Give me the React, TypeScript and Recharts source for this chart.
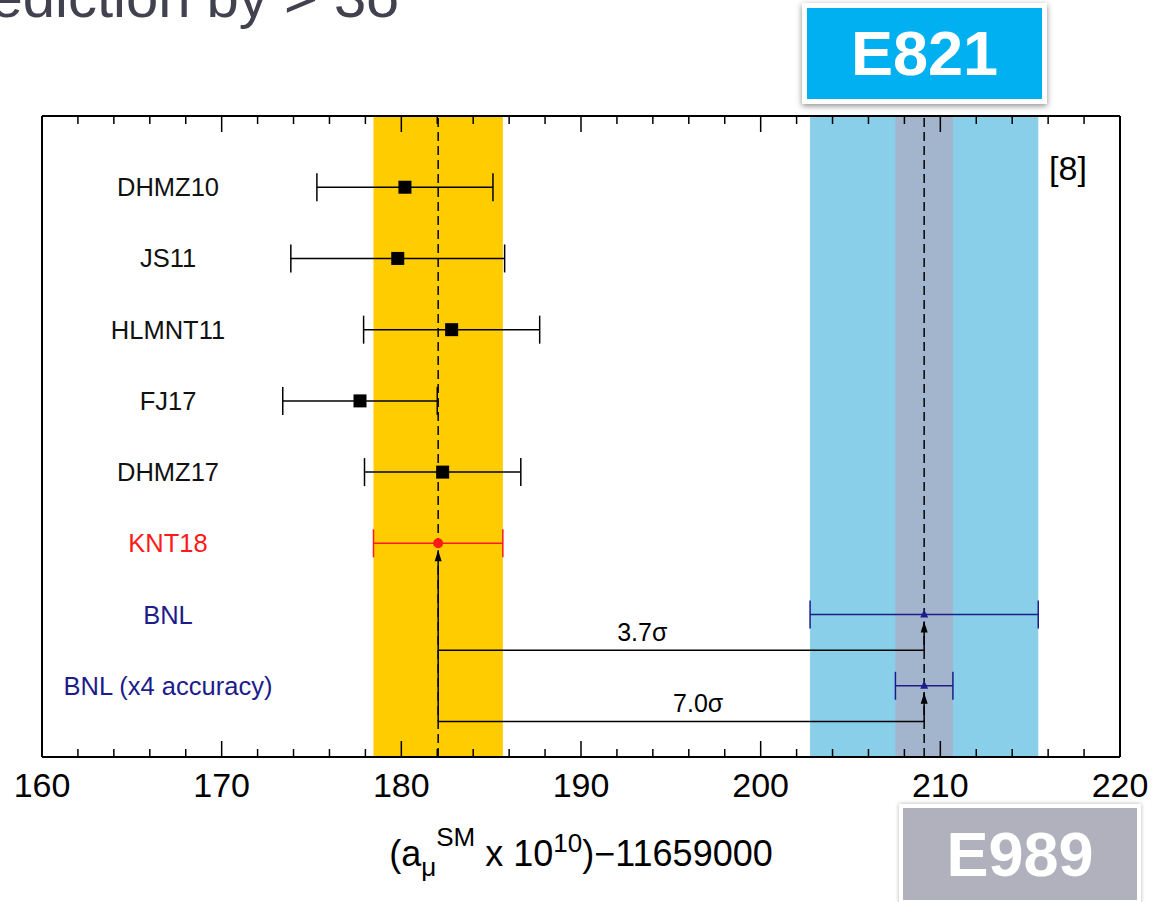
import {
  ScatterChart,
  Scatter,
  XAxis,
  YAxis,
  ErrorBar,
  ReferenceArea,
  ReferenceLine,
  Label,
} from 'recharts';

// Hadronic vacuum polarisation evaluations (black squares)
const hvpLabels = ['DHMZ10', 'JS11', 'HLMNT11', 'FJ17', 'DHMZ17'];
const hvpValues = [180.2, 179.8, 182.8, 177.7, 182.3];
const hvpErrors = [4.9, 5.95, 4.9, 4.3, 4.35];

// reference SM evaluation (red)
const kntLabel = 'KNT18';
const kntValue = 182.05;
const kntError = 3.6;

// measurement (dark blue)
const bnlLabels = ['BNL', 'BNL (x4 accuracy)'];
const bnlValues = [209.1, 209.1];
const bnlErrors = [6.35, 1.6];

const sigmaLabels = ['3.7σ', '7.0σ'];

const xTicks = [
  160, 162, 164, 166, 168, 170, 172, 174, 176, 178, 180, 182, 184, 186, 188, 190,
  192, 194, 196, 198, 200, 202, 204, 206, 208, 210, 212, 214, 216, 218, 220,
];

const FONT = '"Liberation Sans", Arial, Helvetica, sans-serif';
const BLUE = '#1c1c8a';
const RED = '#ff1a1a';

const rowLabels = [...hvpLabels, kntLabel, ...bnlLabels];
const rowColors = [...hvpLabels.map(() => '#111'), RED, ...bnlLabels.map(() => BLUE)];
const rowTicks = rowLabels.map((_, i) => i + 1);
const kntRow = hvpLabels.length + 1;
const bnlRows = bnlLabels.map((_, i) => kntRow + 1 + i);

const hvpData = hvpLabels.map((name, i) => ({ name, x: hvpValues[i], y: i + 1, err: hvpErrors[i] }));
const kntData = [{ name: kntLabel, x: kntValue, y: kntRow, err: kntError }];
const bnlData = bnlLabels.map((name, i) => ({ name, x: bnlValues[i], y: bnlRows[i], err: bnlErrors[i] }));

// where the sigma text sits along each connector (fraction of its length)
const sigmaTextPos = [0.42, 0.535];

function BottomTick(props: any) {
  const { x, y, payload } = props;
  const major = payload.value % 10 === 0;
  return (
    <g>
      <line x1={x} x2={x} y1={y} y2={y - (major ? 16 : 8)} stroke="#000" strokeWidth={1.5} />
      {major && (
        <text x={x} y={y + 40} textAnchor="middle" fontSize={34} fontFamily={FONT} fill="#000">
          {payload.value}
        </text>
      )}
    </g>
  );
}

function TopTick(props: any) {
  const { x, y, payload } = props;
  const major = payload.value % 10 === 0;
  return <line x1={x} x2={x} y1={y} y2={y + (major ? 16 : 8)} stroke="#000" strokeWidth={1.5} />;
}

function RowTick(props: any) {
  const { x, y, payload } = props;
  const i = payload.value - 1;
  return (
    <text x={x + 126} y={y + 9} textAnchor="middle" fontSize={25.5} fontFamily={FONT} fill={rowColors[i]}>
      {rowLabels[i]}
    </text>
  );
}

function AxisTitle(props: any) {
  const { viewBox } = props;
  const cx = viewBox.x + viewBox.width / 2;
  return (
    <text x={cx} y={viewBox.y + 109} textAnchor="middle" fontSize={36} fontFamily={FONT} fill="#000">
      <tspan>(a</tspan>
      <tspan fontSize={26} dy={10}>μ</tspan>
      <tspan fontSize={26} dy={-30}>SM</tspan>
      <tspan dy={20}> x 10</tspan>
      <tspan fontSize={26} dy={-14}>10</tspan>
      <tspan dy={14}>)−11659000</tspan>
    </text>
  );
}

function ArrowLine(props: any) {
  const { x1, y1, x2, y2 } = props;
  const tip = y2 + 7;
  return (
    <g>
      <line x1={x1} y1={y1} x2={x2} y2={tip} stroke="#000" strokeWidth={1.5} />
      <polygon points={`${x2},${tip} ${x2 - 3.5},${tip + 11} ${x2 + 3.5},${tip + 11}`} fill="#000" />
    </g>
  );
}

function sigmaText(i: number) {
  return (props: any) => {
    const { viewBox } = props;
    return (
      <text
        x={viewBox.x + viewBox.width * sigmaTextPos[i]}
        y={viewBox.y - 9}
        textAnchor="middle"
        fontSize={25}
        fontFamily={FONT}
        fill="#000"
      >
        {sigmaLabels[i]}
      </text>
    );
  };
}

const square = (p: any) => <rect x={p.cx - 6.5} y={p.cy - 6.5} width={13} height={13} fill="#000" />;
const redDot = (p: any) => <circle cx={p.cx} cy={p.cy} r={5} fill={RED} />;
const blueMark = (p: any) => (
  <polygon points={`${p.cx},${p.cy - 5} ${p.cx - 4},${p.cy + 3} ${p.cx + 4},${p.cy + 3}`} fill={BLUE} />
);

export default function App() {
  return (
    <div style={{ position: 'absolute', left: 0, top: 0, width: 1153, height: 902, overflow: 'hidden', background: '#fff' }}>
      <svg width={1153} height={60} style={{ position: 'absolute', left: 0, top: 0 }}>
        <text x={402} y={17} textAnchor="end" fontSize={58} fontFamily={FONT} fill="#41414f">
          ediction by &gt; 3σ
        </text>
      </svg>

      <div style={{ position: 'absolute', left: 0, top: 0 }}>
        <ScatterChart width={1153} height={902} margin={{ top: 115, right: 32, bottom: 144, left: 41 }}>
          <XAxis
            type="number"
            dataKey="x"
            domain={[160, 220]}
            ticks={xTicks}
            interval={0}
            height={1}
            tickSize={0}
            tickMargin={0}
            tickLine={false}
            tick={<BottomTick />}
            axisLine={{ stroke: '#000', strokeWidth: 2 }}
            allowDataOverflow
          >
            <Label content={<AxisTitle />} />
          </XAxis>
          <XAxis
            xAxisId="top"
            orientation="top"
            type="number"
            dataKey="x"
            domain={[160, 220]}
            ticks={xTicks}
            interval={0}
            height={1}
            tickSize={0}
            tickMargin={0}
            tickLine={false}
            tick={<TopTick />}
            axisLine={{ stroke: '#000', strokeWidth: 2 }}
            allowDataOverflow
          />
          <YAxis
            type="number"
            dataKey="y"
            domain={[0, rowLabels.length + 1]}
            reversed
            ticks={rowTicks}
            interval={0}
            width={1}
            tickSize={0}
            tickMargin={0}
            tickLine={false}
            tick={<RowTick />}
            axisLine={{ stroke: '#000', strokeWidth: 2 }}
          />
          <YAxis
            yAxisId="right"
            orientation="right"
            type="number"
            domain={[0, rowLabels.length + 1]}
            width={1}
            tick={false}
            tickLine={false}
            axisLine={{ stroke: '#000', strokeWidth: 2 }}
          />

          <ReferenceArea x1={kntValue - kntError} x2={kntValue + kntError} fill="#ffcc00" fillOpacity={1} />
          <ReferenceArea x1={bnlValues[0] - bnlErrors[0]} x2={bnlValues[0] + bnlErrors[0]} fill="#89cfea" fillOpacity={1} />
          <ReferenceArea x1={bnlValues[1] - bnlErrors[1]} x2={bnlValues[1] + bnlErrors[1]} fill="#a2b5cc" fillOpacity={1} />

          <ReferenceLine x={kntValue} stroke="#000" strokeWidth={1.5} strokeDasharray="9 5" />
          <ReferenceLine x={bnlValues[0]} stroke="#000" strokeWidth={1.5} strokeDasharray="9 5" />

          {/* significance connectors */}
          {bnlRows.map((r, i) => (
            <ReferenceLine
              key={`h${i}`}
              segment={[{ x: kntValue, y: r + 0.5 }, { x: bnlValues[i], y: r + 0.5 }]}
              stroke="#000"
              strokeWidth={1.5}
              label={sigmaText(i)}
            />
          ))}
          <ReferenceLine
            segment={[{ x: kntValue, y: bnlRows[bnlRows.length - 1] + 0.5 }, { x: kntValue, y: kntRow }]}
            shape={ArrowLine}
          />
          {bnlRows.map((r, i) => (
            <ReferenceLine
              key={`v${i}`}
              segment={[{ x: bnlValues[i], y: r + 0.5 }, { x: bnlValues[i], y: r }]}
              shape={ArrowLine}
            />
          ))}

          <Scatter data={hvpData} shape={square} isAnimationActive={false}>
            <ErrorBar dataKey="err" direction="x" width={14} stroke="#000" strokeWidth={1.5} isAnimationActive={false} />
          </Scatter>
          <Scatter data={kntData} shape={redDot} isAnimationActive={false}>
            <ErrorBar dataKey="err" direction="x" width={14} stroke={RED} strokeWidth={1.5} isAnimationActive={false} />
          </Scatter>
          <Scatter data={bnlData} shape={blueMark} isAnimationActive={false}>
            <ErrorBar dataKey="err" direction="x" width={14} stroke={BLUE} strokeWidth={1.5} isAnimationActive={false} />
          </Scatter>
        </ScatterChart>
      </div>

      <svg width={1153} height={902} style={{ position: 'absolute', left: 0, top: 0, pointerEvents: 'none' }}>
        <text x={1068} y={180} textAnchor="middle" fontSize={34} fontFamily={FONT} fill="#000">
          [8]
        </text>
      </svg>

      <div
        style={{
          position: 'absolute',
          left: 802,
          top: 3,
          width: 235,
          height: 91,
          border: '5px solid #fff',
          background: '#00b0f0',
          boxShadow: '0 2px 6px rgba(0,0,0,0.45)',
          color: '#fff',
          fontFamily: FONT,
          fontWeight: 'bold',
          fontSize: 63,
          lineHeight: '91px',
          textAlign: 'center',
        }}
      >
        E821
      </div>
      <div
        style={{
          position: 'absolute',
          left: 899,
          top: 804,
          width: 234,
          height: 92,
          border: '4px solid #fff',
          background: '#b1b1be',
          boxShadow: '0 0 4px rgba(0,0,0,0.3)',
          color: '#fff',
          fontFamily: FONT,
          fontWeight: 'bold',
          fontSize: 63,
          lineHeight: '92px',
          textAlign: 'center',
        }}
      >
        E989
      </div>
    </div>
  );
}
